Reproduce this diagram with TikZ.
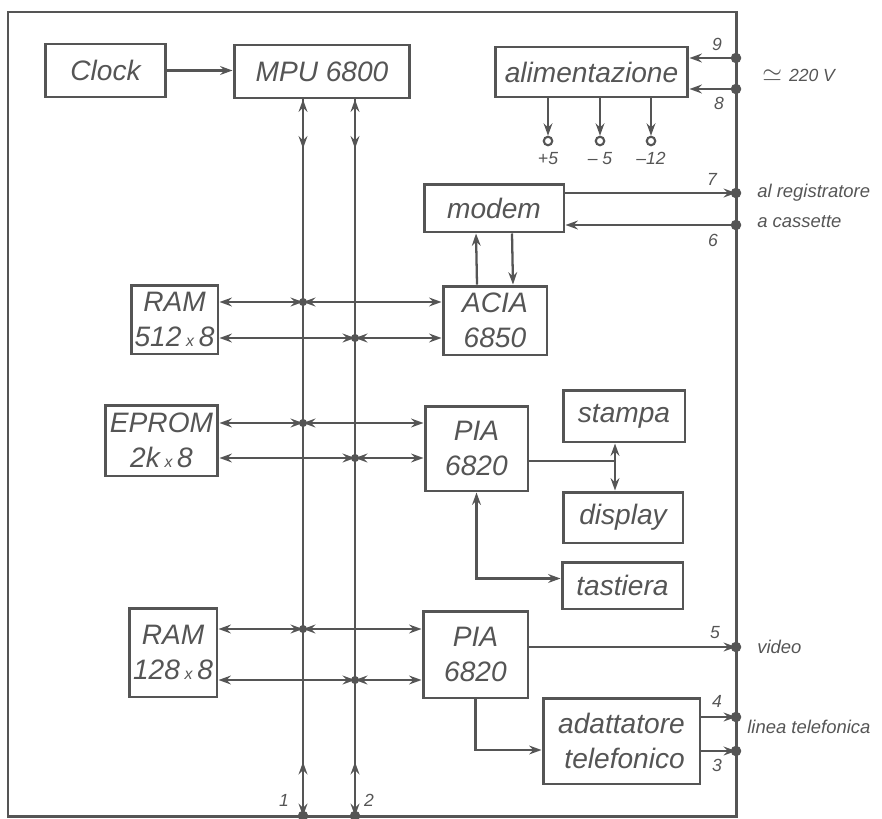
\documentclass[tikz,border=0pt]{standalone}
\usepackage{fontspec}
\setsansfont{Liberation Sans}
\usetikzlibrary{arrows.meta}
\usetikzlibrary{positioning}

\definecolor{ink}{HTML}{555555}

\newcommand{\per}{\,{\fontsize{9}{9}\selectfont x}\,}

\tikzset{
    >={Stealth[length=7pt,width=5pt]},
    blocco/.style={draw=ink, line width=1.7pt, text=ink, align=center, inner sep=0pt,
        font=\sffamily\itshape\fontsize{16}{20}\selectfont},
    filo/.style={draw=ink, line width=1.3pt},
    piccolo/.style={text=ink, inner sep=0pt, font=\sffamily\itshape\fontsize{10}{12}\selectfont},
    nota/.style={text=ink, inner sep=0pt, anchor=west, font=\sffamily\itshape\fontsize{10.5}{12}\selectfont},
    morsetto/.style={circle, draw=ink, line width=1.2pt, minimum size=0.17cm, inner sep=0pt},
}

\begin{document}
\begin{tikzpicture}[x=0.02cm, y=-0.02cm]
        \useasboundingbox (0,0) rectangle (882,818);

        % Cornice
        \draw[ink, line width=1.7pt] (8,12) rectangle (736,816);

        % Blocchi
        \node[blocco, minimum width=2.42cm, minimum height=1.06cm] (clock) at (105.5,70.5) {Clock};
        \node[blocco, minimum width=3.52cm, minimum height=1.06cm] (mpu) at (322,71.5) {MPU 6800};
        \node[blocco, minimum width=3.86cm, minimum height=1.00cm] (alim) at (591.5,72) {alimentazione};
        \node[blocco, minimum width=2.80cm, minimum height=0.96cm] (modem) at (494,208) {modem};
        \node[blocco, minimum width=2.08cm, minimum height=1.38cm] (acia) at (495,320.5) {ACIA\\6850};
        \node[blocco, minimum width=1.74cm, minimum height=1.38cm] (ram1) at (174.5,319.5) {RAM\\512\per8};
        \node[blocco, minimum width=2.26cm, minimum height=1.42cm] (eprom) at (161.5,440.5) {EPROM\\2k\per8};
        \node[blocco, minimum width=2.06cm, minimum height=1.70cm] (pia1) at (476.5,448.5) {PIA\\6820};
        \node[blocco, minimum width=2.44cm, minimum height=1.04cm] (stampa) at (624,416) {stampa};
        \node[blocco, minimum width=2.40cm, minimum height=1.02cm] (display) at (623,517.5) {display};
        \node[blocco, minimum width=2.42cm, minimum height=0.94cm] (tastiera) at (622.5,585.5) {tastiera};
        \node[blocco, minimum width=1.76cm, minimum height=1.78cm] (ram2) at (173,652.5) {RAM\\128\per8};
        \node[blocco, minimum width=2.10cm, minimum height=1.74cm] (pia2) at (475.5,654.5) {PIA\\6820};
        \node[blocco, minimum width=3.14cm, minimum height=1.72cm, align=right] (adatt) at (621.5,741) {adattatore\\telefonico};

        % Morsetti sulla cornice
        \coordinate (p9) at (736,58);
        \coordinate (p8) at (736,89);
        \coordinate (p7) at (736,193);
        \coordinate (p6) at (736,225);
        \coordinate (p5) at (736,647);
        \coordinate (p4) at (736,717);
        \coordinate (p3) at (736,751);
        \coordinate (p1) at (303,816);
        \coordinate (p2) at (355,816);

        \node[piccolo] at (717,44) {9};
        \node[piccolo] at (719,103) {8};
        \node[piccolo] at (712,179) {7};
        \node[piccolo] at (713,240) {6};
        \node[piccolo] at (715,633) {5};
        \node[piccolo] at (717,701) {4};
        \node[piccolo] at (717,765) {3};
        \node[piccolo] at (284,800) {1};
        \node[piccolo] at (369,800) {2};

        % Clock e bus
        \draw[filo,->] (clock.east) -- (clock.east -| mpu.west);
        \foreach \b in {p1,p2}{
            \draw[filo] (mpu.south -| \b) -- (\b);
            \draw[filo,<->] (mpu.south -| \b) -- ++(0,49);
            \draw[filo,<->] (\b) -- ++(0,-54);
        }

        % Collegamenti al bus
        \foreach \sx/\dx/\yy/\xx in {ram1/acia/302/303, ram1/acia/338/355, eprom/pia1/423/303,
                                     eprom/pia1/458/355, ram2/pia2/629/303, ram2/pia2/680/355}{
            \coordinate (g) at (\xx,\yy);
            \draw[filo,<->] (\sx.east |- g) -- (g);
            \draw[filo,<->] (g) -- (\dx.west |- g);
            \fill[ink] (g) circle (2.3pt);
        }

        % Alimentazione
        \draw[filo,->] (p9) -- (alim.east |- p9);
        \draw[filo,->] (p8) -- (alim.east |- p8);
        \node[morsetto] (t1) at (548,141) {};
        \node[morsetto] (t2) at (600,141) {};
        \node[morsetto] (t3) at (651,141) {};
        \foreach \t in {t1,t2,t3}{
            \draw[filo,->] (alim.south -| \t) -- (\t.north);
        }
        \node[piccolo, below=3pt of t1] {+5};
        \node[piccolo, below=3pt of t2] {-- 5};
        \node[piccolo, below=3pt of t3] {--12};
        \node[nota] at (762,75) {\Large$\simeq$\ \normalsize220 V};

        % Modem e ACIA
        \draw[filo,->] (modem.east |- p7) -- (p7);
        \draw[filo,->] (p6) -- (modem.east |- p6);
        \draw[filo,->] ([xshift=-0.36cm]acia.north) -- ([xshift=-0.36cm]modem.south);
        \draw[filo,->] ([xshift=0.36cm]modem.south) -- ([xshift=0.36cm]acia.north);
        \node[nota] at (757,193) {al registratore};
        \node[nota] at (757,222) {a cassette};

        % PIA superiore
        \coordinate (q) at (615,461);
        \draw[filo] (pia1.east |- q) -- (q);
        \draw[filo,->] (q) -- (stampa.south -| q);
        \draw[filo,->] (q) -- (display.north -| q);
        \draw[filo,<->] (pia1.south) |- ([yshift=0.14cm]tastiera.west);

        % PIA inferiore
        \draw[filo,->] (pia2.east |- p5) -- (p5);
        \draw[filo,->] (pia2.south) |- ([yshift=-0.18cm]adatt.west);
        \draw[filo,->] (adatt.east |- p4) -- (p4);
        \draw[filo,->] (adatt.east |- p3) -- (p3);
        \node[nota] at (757,647) {video};
        \node[nota] at (747,727) {linea telefonica};

        \foreach \p in {p9,p8,p7,p6,p5,p4,p3,p1,p2}{
            \fill[ink] (\p) circle (3pt);
        }
    \end{tikzpicture}
\end{document}
